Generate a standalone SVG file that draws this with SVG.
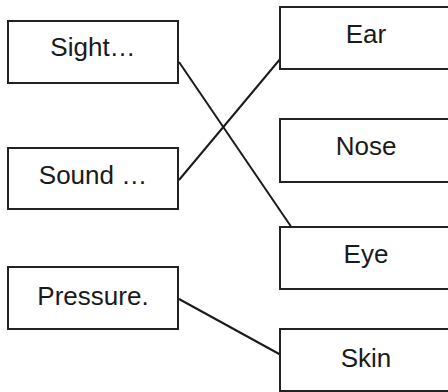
<svg xmlns="http://www.w3.org/2000/svg" width="448" height="392" viewBox="0 0 448 392">
<style>
.box{fill:#fff;stroke:#222;stroke-width:2}
.lbl{font-family:"Liberation Sans",Arial,sans-serif;font-size:26px;fill:#1a1a1a;text-anchor:middle}
.edge{stroke:#1a1a1a;stroke-width:2;fill:none}
</style>
<rect width="448" height="392" fill="#fff"/>
<g id="connectors">
<line class="edge" x1="179" y1="62" x2="292" y2="228"/>
<line class="edge" x1="179" y1="180" x2="281" y2="58"/>
<line class="edge" x1="179" y1="299" x2="281" y2="355"/>
</g>
<g id="sight"><rect class="box" x="8" y="21" width="170" height="62"/><text class="lbl" x="93" y="56">Sight…</text></g>
<g id="sound"><rect class="box" x="8" y="148" width="170" height="61"/><text class="lbl" x="93" y="184">Sound …</text></g>
<g id="pressure"><rect class="box" x="8" y="267" width="170" height="62"/><text class="lbl" x="93" y="305">Pressure.</text></g>
<g id="ear"><rect class="box" x="280" y="7" width="172" height="62"/><text class="lbl" x="366" y="43">Ear</text></g>
<g id="nose"><rect class="box" x="280" y="119" width="172" height="63"/><text class="lbl" x="366" y="155">Nose</text></g>
<g id="eye"><rect class="box" x="280" y="227" width="172" height="62"/><text class="lbl" x="366" y="263">Eye</text></g>
<g id="skin"><rect class="box" x="280" y="329" width="172" height="62"/><text class="lbl" x="366" y="367">Skin</text></g>
</svg>
